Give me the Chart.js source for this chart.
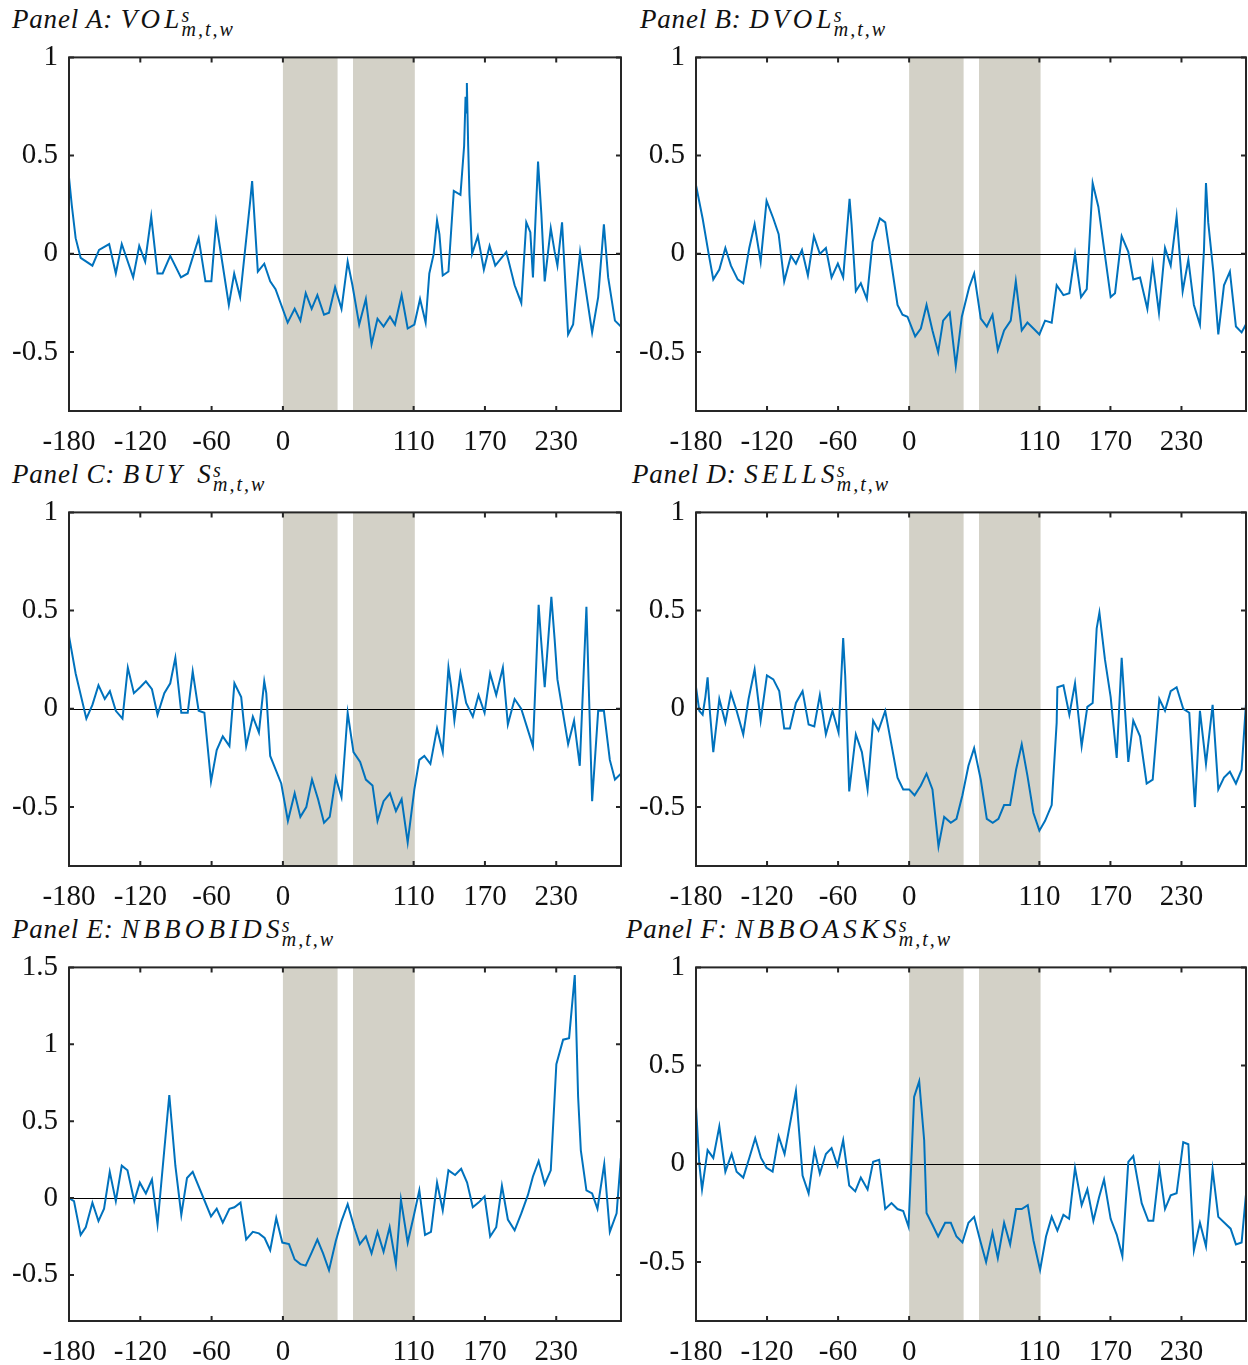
<!DOCTYPE html>
<html>
<head>
<meta charset="utf-8">
<script src="https://cdn.jsdelivr.net/npm/chart.js@4.4.1/dist/chart.umd.min.js"></script>
<style>
  html, body { margin: 0; padding: 0; background: #fff; }
  #wrap { position: relative; width: 1248px; height: 1365px; overflow: hidden; }
  .cv { position: absolute; }
  .ttl { position: absolute; font-family: "Liberation Serif", "DejaVu Serif", serif; font-style: italic; font-size: 27px; color: #111; white-space: nowrap; line-height: 30px; letter-spacing: 0.8px; }
  .mv { letter-spacing: 4.2px; }
  .ss { display: inline-flex; flex-direction: column; vertical-align: middle; font-size: 20px; line-height: 14px; letter-spacing: 2px; position: relative; top: 0px; margin-left: -2px; }
</style>
</head>
<body>
<div id="wrap">
  <div class="ttl" style="left:12px;top:4px">Panel A: <span class="mv">VOL</span><span class="ss"><span>s</span><span>m,t,w</span></span></div>
  <div class="ttl" style="left:640px;top:4px">Panel B: <span class="mv">DVOL</span><span class="ss"><span>s</span><span>m,t,w</span></span></div>
  <div class="ttl" style="left:12px;top:459px">Panel C: <span class="mv">BUY S</span><span class="ss"><span>s</span><span>m,t,w</span></span></div>
  <div class="ttl" style="left:632px;top:459px">Panel D: <span class="mv">SELLS</span><span class="ss"><span>s</span><span>m,t,w</span></span></div>
  <div class="ttl" style="left:12px;top:914px">Panel E: <span class="mv">NBBOBIDS</span><span class="ss"><span>s</span><span>m,t,w</span></span></div>
  <div class="ttl" style="left:626px;top:914px">Panel F: <span class="mv">NBBOASKS</span><span class="ss"><span>s</span><span>m,t,w</span></span></div>
  <canvas id="cA" class="cv"></canvas>
  <canvas id="cB" class="cv"></canvas>
  <canvas id="cC" class="cv"></canvas>
  <canvas id="cD" class="cv"></canvas>
  <canvas id="cE" class="cv"></canvas>
  <canvas id="cF" class="cv"></canvas>
</div>
<script>
// Event-time axis (minutes) and shaded windows
const xTicks = [-180, -120, -60, 0, 110, 170, 230];
const xMin = -180, xMax = 284.5;
const shadedWindows = [[0, 46], [59, 111]];
const yTicksStd = [-0.5, 0, 0.5, 1];
const yTicksBids = [-0.5, 0, 0.5, 1, 1.5];

// Panel A: VOL
const volT = [-180, -177.7, -174.4, -170.2, -160.3, -154.7, -146.2, -140.6, -135.6, -126, -120.9, -115.9, -110.8, -105.5, -101.2, -94.8, -85.8, -80.1, -70.9, -65.2, -60.2, -56.2, -45.5, -41, -36, -27.5, -25.9, -21.1, -15.7, -10.7, -6.2, 4, 9.9, 14.7, 19.2, 24.2, 29, 34.6, 38.8, 43.9, 49.3, 54.5, 58.5, 64.2, 69.8, 74.6, 79.6, 84.7, 90.1, 94.3, 99.9, 105, 110.6, 115.4, 120.1, 123.2, 126.9, 129.7, 131.7, 134.5, 139.3, 143.8, 149.4, 152.5, 153.7, 154.3, 154.8, 155.9, 157, 159.2, 164, 169.1, 173.9, 178.7, 188, 195, 200.6, 204.8, 208.2, 210.4, 214.7, 217.5, 220.3, 225.4, 228.7, 231, 234.9, 240, 244.2, 250.1, 260.2, 265.3, 270.1, 273.7, 279.4, 284.4];
const volV = [0.39, 0.25, 0.08, -0.02, -0.06, 0.02, 0.05, -0.10, 0.05, -0.12, 0.04, -0.04, 0.19, -0.10, -0.10, -0.01, -0.12, -0.10, 0.08, -0.14, -0.14, 0.16, -0.26, -0.10, -0.22, 0.27, 0.37, -0.09, -0.05, -0.14, -0.18, -0.35, -0.28, -0.34, -0.20, -0.28, -0.21, -0.31, -0.30, -0.17, -0.28, -0.04, -0.16, -0.36, -0.23, -0.46, -0.33, -0.37, -0.32, -0.36, -0.21, -0.38, -0.36, -0.23, -0.35, -0.10, 0.00, 0.17, 0.10, -0.11, -0.09, 0.32, 0.30, 0.55, 0.80, 0.72, 0.87, 0.55, 0.30, 0.00, 0.09, -0.08, 0.04, -0.06, 0.01, -0.16, -0.25, 0.16, 0.11, -0.12, 0.47, 0.20, -0.14, 0.13, 0.01, -0.06, 0.16, -0.41, -0.36, 0.01, -0.40, -0.22, 0.15, -0.12, -0.34, -0.37];

// Panel B: DVOL
const dvolT = [-180, -174.4, -169.3, -165.4, -160.3, -155.2, -150.5, -144.8, -140.1, -135, -130.5, -125.4, -120.4, -114.7, -110.2, -105.5, -99.8, -95.6, -90.5, -85.5, -80.4, -75.4, -70.3, -65.5, -60.2, -55.7, -50.3, -48.6, -45, -40.8, -35.7, -30.9, -24.7, -20.2, -9.8, -5.6, -1.4, 5.1, 9.9, 14.7, 19.7, 24.5, 28.7, 34.3, 39.4, 44.5, 50.7, 54.9, 60.5, 65.6, 70.4, 74.9, 80.2, 85.8, 90.1, 95.1, 99.9, 105, 110, 114.8, 120.4, 124.6, 130.3, 135.3, 140.1, 145.2, 150, 155, 159.8, 170.2, 173.9, 179.5, 185.1, 189.3, 195, 201.2, 205.7, 211, 216.1, 220.9, 225.9, 231, 235.8, 240.5, 245.6, 249, 250.7, 252.6, 256.9, 261.1, 265.9, 270.9, 276, 280.8, 284.4];
const dvolV = [0.35, 0.18, 0.00, -0.13, -0.08, 0.03, -0.06, -0.13, -0.15, 0.03, 0.15, -0.04, 0.27, 0.18, 0.10, -0.14, -0.01, -0.05, 0.02, -0.11, 0.09, 0.00, 0.03, -0.12, -0.05, -0.12, 0.28, 0.15, -0.19, -0.15, -0.23, 0.06, 0.18, 0.16, -0.26, -0.31, -0.32, -0.42, -0.38, -0.26, -0.39, -0.50, -0.34, -0.30, -0.57, -0.32, -0.17, -0.10, -0.33, -0.37, -0.31, -0.49, -0.39, -0.34, -0.14, -0.39, -0.35, -0.38, -0.41, -0.34, -0.35, -0.16, -0.21, -0.20, 0.00, -0.22, -0.18, 0.36, 0.24, -0.22, -0.20, 0.09, 0.01, -0.13, -0.12, -0.28, -0.05, -0.30, 0.03, -0.06, 0.19, -0.19, -0.03, -0.26, -0.36, 0.02, 0.36, 0.16, -0.09, -0.41, -0.16, -0.09, -0.37, -0.40, -0.36];

// Panel C: BUYS
const buysT = [-180, -174.4, -165.4, -160.3, -155.2, -149.9, -145.6, -140.6, -135, -130.5, -125.4, -120.1, -115.3, -110.2, -105.5, -99.8, -94.8, -90.5, -85.5, -80.1, -75.9, -70.9, -66.1, -60.5, -55.7, -50.6, -45, -40.8, -35.1, -30.9, -25.3, -20.2, -15.7, -14, -10.7, -1.4, 4.2, 9.9, 14.7, 19.7, 24.5, 29.6, 34.6, 39.4, 44.5, 49.3, 54.5, 59.4, 65, 69.8, 75.4, 79.6, 84.7, 90.1, 95.1, 99.9, 105, 110.6, 114.8, 119, 124.1, 129.7, 134.5, 139.3, 141.6, 144.3, 149.4, 154.2, 159.8, 164.6, 169.7, 174.4, 179.5, 185.1, 189.3, 195, 200.6, 210.4, 215.2, 216.9, 220.3, 225.9, 228.7, 231, 240, 245, 249.8, 255.4, 260.2, 265.3, 270.1, 275.1, 279.4, 284.4];
const buysV = [0.37, 0.18, -0.05, 0.02, 0.12, 0.05, 0.09, -0.01, -0.05, 0.21, 0.08, 0.11, 0.14, 0.10, -0.03, 0.08, 0.13, 0.26, -0.02, -0.02, 0.19, -0.01, -0.02, -0.37, -0.21, -0.14, -0.19, 0.13, 0.06, -0.19, -0.04, -0.12, 0.14, 0.08, -0.24, -0.38, -0.57, -0.43, -0.55, -0.50, -0.36, -0.46, -0.58, -0.55, -0.35, -0.45, -0.02, -0.22, -0.27, -0.36, -0.39, -0.57, -0.47, -0.43, -0.52, -0.46, -0.68, -0.41, -0.26, -0.24, -0.28, -0.10, -0.22, 0.21, 0.11, -0.06, 0.18, 0.03, -0.04, 0.07, -0.02, 0.18, 0.07, 0.21, -0.08, 0.05, 0.00, -0.19, 0.53, 0.38, 0.11, 0.57, 0.35, 0.15, -0.18, -0.06, -0.29, 0.52, -0.47, -0.01, -0.01, -0.26, -0.36, -0.33];

// Panel D: SELLS
const sellsT = [-180, -177.2, -174.4, -172.1, -170.2, -168.2, -165.4, -160.3, -155.2, -150.5, -145.7, -140.1, -135.6, -130.5, -125.4, -120.1, -114.7, -109.7, -105.5, -100.7, -95.6, -90, -84.9, -80.1, -75.4, -70.3, -64.7, -59.6, -55.7, -54, -50.6, -45, -39.9, -35.1, -30.4, -25.9, -20.2, -9.8, -5, 0, 4.6, 9.9, 14.7, 19.7, 24.8, 29.6, 35.2, 40, 45, 50.1, 54.9, 60.5, 65.6, 70.6, 75.4, 80.2, 85.3, 90.3, 95.1, 99.9, 105, 110, 114.8, 120.4, 124.6, 125.2, 130.3, 135.3, 140.1, 145.7, 150.5, 155, 158.4, 160.7, 165.4, 170.2, 175.3, 179.5, 185.1, 189.3, 195, 200.6, 205.7, 211.3, 216.1, 220.9, 225.9, 231.5, 236.6, 241.4, 245.6, 250.7, 256.3, 261.1, 265.9, 270.9, 276, 280.8, 284.4];
const sellsV = [0.11, -0.01, -0.03, 0.06, 0.16, -0.02, -0.22, 0.05, -0.07, 0.08, -0.01, -0.13, 0.05, 0.20, -0.06, 0.17, 0.15, 0.09, -0.10, -0.10, 0.03, 0.09, -0.08, -0.09, 0.07, -0.13, -0.01, -0.12, 0.36, 0.17, -0.42, -0.13, -0.22, -0.41, -0.06, -0.11, -0.01, -0.35, -0.41, -0.41, -0.44, -0.39, -0.33, -0.41, -0.70, -0.55, -0.58, -0.56, -0.44, -0.29, -0.20, -0.36, -0.56, -0.58, -0.56, -0.49, -0.49, -0.31, -0.18, -0.34, -0.53, -0.62, -0.57, -0.49, -0.07, 0.11, 0.12, -0.03, 0.13, -0.19, 0.01, 0.03, 0.41, 0.49, 0.25, 0.06, -0.25, 0.26, -0.27, -0.06, -0.14, -0.38, -0.36, 0.05, -0.01, 0.09, 0.11, 0.00, -0.02, -0.50, -0.01, -0.28, 0.02, -0.41, -0.35, -0.32, -0.38, -0.31, 0.02];

// Panel E: NBBOBIDS
const bidsT = [-180, -175.8, -170.2, -165.9, -160.3, -155.2, -150.5, -145.7, -140.6, -135.6, -130.8, -125.1, -120.4, -115.3, -110.2, -105.5, -95.6, -90.5, -85.5, -80.7, -75.9, -60.5, -55.7, -50.6, -45, -40.8, -35.7, -30.9, -25.3, -20.2, -15.4, -10.7, -5.6, -0.5, 5.1, 9.9, 14.7, 19.2, 23.9, 29, 33.8, 38.8, 44.5, 49.3, 54.5, 60, 64.7, 69.8, 74.6, 79.6, 84.7, 89.8, 95.1, 99.3, 105, 110, 114.8, 119.6, 124.6, 129.7, 134.5, 139.3, 144.9, 150, 155, 159.8, 164.6, 169.7, 174.4, 179.5, 184.3, 189.3, 195, 200.6, 206.2, 210.4, 215.2, 220.3, 225.4, 230.1, 235.8, 240.8, 245.6, 248.4, 250.7, 255.4, 260.2, 264.7, 270.4, 275.1, 280.8, 284.4];
const bidsV = [0.00, -0.02, -0.24, -0.19, -0.03, -0.15, -0.07, 0.17, -0.02, 0.21, 0.18, -0.02, 0.10, 0.03, 0.12, -0.17, 0.67, 0.21, -0.11, 0.13, 0.17, -0.12, -0.07, -0.16, -0.07, -0.06, -0.03, -0.27, -0.22, -0.23, -0.26, -0.34, -0.13, -0.29, -0.30, -0.40, -0.43, -0.44, -0.36, -0.27, -0.36, -0.47, -0.28, -0.15, -0.04, -0.19, -0.30, -0.25, -0.36, -0.22, -0.35, -0.19, -0.43, -0.01, -0.29, -0.12, 0.05, -0.24, -0.22, 0.10, -0.08, 0.18, 0.15, 0.19, 0.10, -0.06, -0.03, 0.01, -0.25, -0.19, 0.08, -0.14, -0.21, -0.10, 0.02, 0.14, 0.24, 0.09, 0.18, 0.87, 1.03, 1.04, 1.45, 0.66, 0.31, 0.05, 0.03, -0.07, 0.22, -0.22, -0.10, 0.26];

// Panel F: NBBOASKS
const asksT = [-180, -177.2, -174.9, -170.2, -165.4, -160.3, -155.2, -149.9, -145.7, -140.1, -135, -130, -125.1, -120.4, -115.3, -110.2, -105.2, -95.6, -90, -84.9, -79.9, -75.4, -70.3, -65.5, -60.5, -55.7, -50.6, -45.5, -40.8, -35.1, -30.4, -25.3, -20.2, -14.9, -9.8, -5, -0.5, 4.2, 8.5, 12.7, 14.7, 19.7, 24.5, 30.4, 35.2, 40, 45, 50.1, 54.9, 60, 65, 70.4, 74.9, 80.2, 85.3, 90.3, 95.1, 100.2, 105, 110.6, 115.6, 120.4, 125.2, 130.3, 135.1, 140.1, 145.7, 150.5, 155.6, 160.4, 164.6, 170.2, 175.3, 180.1, 185.1, 189.3, 196.4, 202, 206.2, 211.3, 216.1, 220.9, 225.9, 231.5, 235.8, 240.5, 245.6, 250.7, 256.3, 261.1, 271.5, 276, 280.8, 284.4];
const asksV = [0.29, 0.00, -0.13, 0.07, 0.03, 0.19, -0.04, 0.05, -0.04, -0.07, 0.03, 0.13, 0.03, -0.02, -0.04, 0.14, 0.05, 0.37, -0.06, -0.15, 0.07, -0.05, 0.05, 0.08, -0.01, 0.12, -0.11, -0.14, -0.07, -0.13, 0.01, 0.02, -0.23, -0.20, -0.23, -0.24, -0.32, 0.34, 0.42, 0.12, -0.25, -0.31, -0.37, -0.30, -0.30, -0.37, -0.40, -0.30, -0.27, -0.39, -0.50, -0.35, -0.48, -0.30, -0.41, -0.23, -0.23, -0.21, -0.39, -0.54, -0.37, -0.27, -0.34, -0.26, -0.28, -0.02, -0.21, -0.13, -0.29, -0.17, -0.08, -0.28, -0.36, -0.47, 0.01, 0.04, -0.20, -0.29, -0.29, -0.02, -0.23, -0.16, -0.15, 0.11, 0.10, -0.44, -0.30, -0.42, -0.03, -0.27, -0.33, -0.41, -0.40, -0.16];

const panels = [
  { id: 'cA', col: 0, row: 0, t: volT, v: volV, yMax: 1, yTicks: yTicksStd },
  { id: 'cB', col: 1, row: 0, t: dvolT, v: dvolV, yMax: 1, yTicks: yTicksStd },
  { id: 'cC', col: 0, row: 1, t: buysT, v: buysV, yMax: 1, yTicks: yTicksStd },
  { id: 'cD', col: 1, row: 1, t: sellsT, v: sellsV, yMax: 1, yTicks: yTicksStd },
  { id: 'cE', col: 0, row: 2, t: bidsT, v: bidsV, yMax: 1.5, yTicks: yTicksBids },
  { id: 'cF', col: 1, row: 2, t: asksT, v: asksV, yMax: 1, yTicks: yTicksStd }
];

const rowTop = [57, 512, 967];
const colLeft = [0, 627];
const colWidth = [623, 621];
// chart area top sits a bit below PAD_TOP (room for the top y label)
const PAD_TOP = 17, TOP_OFFSET = 28, AXIS_H = 44, AXIS_W = 69, CV_H = 426;
const tickFont = { family: "'Liberation Serif', 'DejaVu Serif', serif", size: 29 };

// shaded windows + zero line under the series, frame and inward ticks on top
const decor = {
  id: 'decor',
  beforeDatasetsDraw(chart) {
    const { ctx, chartArea: a, scales: { x, y } } = chart;
    ctx.save();
    ctx.fillStyle = '#d3d1c7';
    shadedWindows.forEach(([s, e]) => {
      const x0 = x.getPixelForValue(s), x1 = x.getPixelForValue(e);
      ctx.fillRect(x0, a.top, x1 - x0, a.bottom - a.top);
    });
    const y0 = Math.round(y.getPixelForValue(0)) + 0.5;
    ctx.strokeStyle = '#000';
    ctx.lineWidth = 1;
    ctx.beginPath();
    ctx.moveTo(a.left, y0);
    ctx.lineTo(a.right, y0);
    ctx.stroke();
    ctx.restore();
  },
  afterDraw(chart) {
    const { ctx, chartArea: a, scales: { x, y } } = chart;
    ctx.save();
    ctx.strokeStyle = '#262626';
    ctx.lineWidth = 2;
    ctx.strokeRect(a.left, a.top, a.right - a.left, a.bottom - a.top);
    ctx.beginPath();
    x.ticks.forEach(tk => {
      const px = x.getPixelForValue(tk.value);
      ctx.moveTo(px, a.bottom); ctx.lineTo(px, a.bottom - 5);
      ctx.moveTo(px, a.top); ctx.lineTo(px, a.top + 5);
    });
    y.ticks.forEach(tk => {
      const py = y.getPixelForValue(tk.value);
      ctx.moveTo(a.left, py); ctx.lineTo(a.left + 5, py);
      ctx.moveTo(a.right, py); ctx.lineTo(a.right - 5, py);
    });
    ctx.stroke();
    ctx.restore();
  }
};

panels.forEach(p => {
  const cv = document.getElementById(p.id);
  cv.style.left = colLeft[p.col] + 'px';
  cv.style.top = (rowTop[p.row] - TOP_OFFSET) + 'px';
  cv.style.width = colWidth[p.col] + 'px';
  cv.style.height = CV_H + 'px';
  new Chart(cv, {
    type: 'line',
    data: {
      datasets: [{
        data: p.t.map((t, i) => ({ x: t, y: p.v[i] })),
        parsing: false,
        borderColor: '#0072bd',
        borderWidth: 2,
        pointRadius: 0,
        tension: 0,
        fill: false
      }]
    },
    options: {
      responsive: false,
      animation: false,
      devicePixelRatio: 1,
      layout: { padding: { top: PAD_TOP, right: 2, left: 0, bottom: 0 } },
      plugins: { legend: { display: false }, tooltip: { enabled: false } },
      scales: {
        x: {
          type: 'linear', min: xMin, max: xMax,
          grid: { display: false, drawTicks: false },
          border: { display: false },
          afterBuildTicks: s => { s.ticks = xTicks.map(v => ({ value: v })); },
          afterFit: s => { s.height = AXIS_H; },
          ticks: { color: '#111', font: tickFont, padding: 14, maxRotation: 0, autoSkip: false, callback: v => String(v) }
        },
        y: {
          type: 'linear', min: -0.8, max: p.yMax,
          grid: { display: false, drawTicks: false },
          border: { display: false },
          afterBuildTicks: s => { s.ticks = p.yTicks.map(v => ({ value: v })); },
          afterFit: s => { s.width = AXIS_W; },
          ticks: { color: '#111', font: tickFont, padding: 11, callback: v => String(v) }
        }
      }
    },
    plugins: [decor]
  });
});
</script>
</body>
</html>
